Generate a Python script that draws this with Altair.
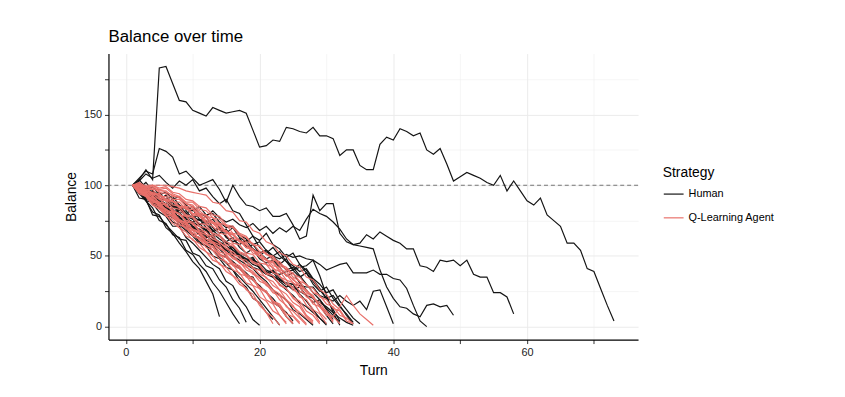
import altair as alt
import pandas as pd

# ---- data: balance per turn (turn 1, 2, 3, ...) ----
human = [
    [100, 104, 111, 104, 183, 184, 172, 160, 159, 153, 151, 149, 155, 153, 151, 152, 153, 151, 139, 127,
     128, 132, 131, 141, 140, 138, 137, 141, 135, 135, 133, 121, 125, 125, 114, 111, 111, 129, 134, 132,
     140, 138, 135, 137, 125, 122, 126, 115, 103, 106, 109, 107, 105, 102, 100, 107, 96, 103, 96, 89,
     86, 91, 79, 75, 71, 59, 59, 54, 41, 39, 27, 15, 4],
    [100, 105, 110, 108, 126, 124, 120, 108, 110, 105, 100, 102, 104, 97, 88, 100, 92, 86, 85, 82,
     84, 78, 78, 80, 72, 62, 64, 93, 82, 87, 87, 66, 60, 58, 59, 65, 62, 67, 64, 61,
     59, 55, 55, 43, 42, 39, 47, 46, 47, 43, 47, 37, 35, 35, 24, 24, 21, 9],
    [100, 98, 102, 96, 93, 90, 92, 86, 83, 85, 80, 78, 82, 77, 74, 76, 72, 70, 73, 68,
     71, 66, 70, 67, 71, 68, 76, 83, 80, 78, 74, 69, 62, 58, 57, 56, 55, 40, 28, 20,
     14, 13, 9, 7, 15, 16, 14, 15, 8],
    [100, 97, 92, 95, 88, 84, 86, 80, 77, 74, 76, 70, 67, 69, 64, 60, 62, 57, 55, 52,
     54, 50, 48, 51, 49, 50, 48, 47, 44, 40, 42, 44, 45, 38, 38, 38, 40, 37, 37, 34,
     33, 27, 15, 4, 0],
    [100, 96, 93, 90, 86, 83, 80, 77, 73, 70, 68, 64, 61, 58, 55, 52, 49, 46, 42, 40,
     37, 35, 33, 31, 30, 29, 28, 28, 22, 20, 18, 22, 18, 15, 18, 12, 25, 26, 14, 2],
    [100, 95, 91, 88, 84, 82, 78, 75, 71, 69, 65, 62, 60, 57, 55, 52, 50, 48, 47, 45,
     40, 38, 37, 39, 40, 42, 43, 47, 36, 22, 10, 1],
    [100, 103, 108, 105, 107, 102, 98, 103, 100, 104, 96, 98, 92, 87, 90, 82, 80, 72, 64, 61,
     66, 58, 55, 49, 52, 44, 40, 33, 27, 20, 12, 4],
    [100, 101, 96, 99, 93, 95, 90, 92, 86, 82, 85, 79, 80, 74, 70, 71, 65, 62, 58, 60,
     54, 50, 53, 46, 43, 39, 41, 34, 30, 24, 26, 18, 12, 6, 2],
    [100, 94, 89, 81, 79, 70, 66, 59, 53, 46, 41, 32, 23, 7],
    [100, 95, 89, 84, 75, 73, 65, 63, 54, 51, 44, 39, 31, 25, 17, 9, 2],
    [100, 91, 90, 79, 78, 72, 67, 62, 61, 52, 50, 43, 41, 33, 28, 19, 13, 3],
    [100, 97, 91, 87, 81, 78, 71, 71, 63, 59, 54, 49, 44, 41, 32, 29, 20, 14, 5, 1],
    [100, 98, 89, 88, 84, 80, 74, 72, 68, 64, 59, 57, 50, 48, 42, 40, 32, 28, 20, 17, 10, 5],
    [100, 97, 95, 88, 85, 79, 79, 72, 71, 65, 63, 59, 58, 51, 49, 44, 41, 36, 35, 27,
     25, 17, 14, 7, 2],
    [100, 95, 97, 91, 88, 84, 81, 80, 75, 71, 69, 65, 60, 58, 54, 50, 47, 44, 41, 36,
     32, 26, 22, 19, 12, 9, 5, 1],
    [100, 104, 98, 95, 91, 89, 86, 83, 78, 76, 73, 68, 66, 62, 59, 56, 52, 50, 46, 43,
     38, 35, 30, 26, 22, 17, 14, 10, 6, 2],
    [100, 99, 93, 94, 87, 85, 80, 78, 72, 70, 65, 61, 59, 55, 50, 46, 42, 38, 33, 29,
     24, 20, 14, 10, 4],
    [100, 96, 92, 89, 86, 80, 77, 74, 69, 66, 60, 57, 54, 49, 45, 40, 35, 30, 25, 19, 13, 7, 1],
    [100, 97, 94, 91, 89, 85, 83, 80, 76, 74, 71, 68, 63, 60, 57, 54, 51, 48, 44, 42,
     39, 36, 33, 30, 28, 25, 22, 20, 17, 14, 10, 6, 3, 1],
    [100, 96, 99, 92, 90, 93, 85, 82, 86, 78, 75, 78, 70, 66, 69, 62, 58, 61, 55, 50,
     54, 47, 44, 48, 40, 35, 38, 30, 25, 28, 20, 14, 9, 3],
    [100, 97, 92, 94, 88, 85, 88, 80, 82, 76, 72, 75, 68, 64, 60, 63, 56, 52, 55, 48,
     45, 47, 42, 36, 38, 31, 26, 20, 15, 8, 2],
    [100, 102, 97, 92, 95, 89, 84, 86, 80, 77, 79, 72, 68, 70, 63, 60, 62, 56, 58, 52,
     48, 50, 45, 40, 42, 36, 30, 24, 19, 12, 5],
    [100, 95, 90, 92, 86, 81, 83, 76, 72, 74, 67, 63, 65, 58, 54, 56, 50, 47, 49, 42,
     38, 40, 34, 30, 26, 28, 22, 17, 19, 13, 8, 3],
    [100, 98, 94, 96, 90, 87, 90, 83, 80, 83, 76, 73, 76, 70, 66, 70, 63, 60, 64, 56,
     52, 56, 50, 46, 40, 44, 38, 32, 26, 20, 22, 15, 8, 2],
    [100, 94, 96, 89, 85, 87, 80, 76, 78, 71, 67, 69, 62, 58, 60, 54, 50, 46, 48, 41,
     37, 39, 32, 28, 30, 23, 18, 12, 6, 1],
]

agent = [
    [100, 95, 92, 86, 84, 78, 76, 70, 67, 61, 59, 53, 50, 44, 42, 36, 33, 26, 23, 15, 10, 2],
    [100, 98, 93, 90, 85, 83, 77, 75, 69, 68, 61, 60, 54, 52, 45, 44, 37, 36, 29, 27, 19, 16, 8, 3],
    [100, 97, 94, 89, 88, 82, 81, 76, 73, 68, 66, 60, 59, 53, 51, 45, 43, 37, 34, 28, 25, 18, 15, 7, 2],
    [100, 100, 95, 93, 87, 86, 82, 80, 74, 73, 67, 65, 60, 58, 52, 51, 45, 43, 37, 35, 29, 26, 19, 15, 8, 3],
    [100, 96, 96, 91, 91, 85, 83, 79, 78, 72, 71, 65, 64, 59, 57, 51, 50, 44, 42, 37, 35, 29, 26, 19, 15, 7, 2],
    [100, 100, 97, 97, 91, 90, 86, 85, 79, 78, 73, 72, 66, 65, 60, 58, 53, 51, 46, 44, 38, 36, 29, 27, 20, 16, 8, 4],
    [100, 101, 98, 100, 97, 98, 94, 92, 87, 86, 80, 79, 74, 72, 67, 65, 60, 58, 52, 50, 44, 42, 35, 33, 26, 23, 15, 11, 3],
    [100, 97, 98, 94, 94, 89, 89, 85, 84, 79, 78, 73, 71, 66, 65, 59, 58, 52, 51, 45, 44, 38, 36, 30, 28, 21, 19, 12, 9, 2],
    [100, 102, 99, 100, 98, 99, 95, 94, 90, 89, 85, 84, 79, 78, 72, 71, 66, 64, 58, 57, 51, 49, 43, 41, 35, 32, 25, 22, 14, 10, 3],
    [100, 97, 97, 93, 94, 90, 89, 85, 85, 80, 80, 75, 74, 69, 68, 62, 61, 56, 54, 49, 47, 41, 39, 33, 31, 25, 23, 16, 14, 8, 7, 14, 22, 15, 9, 5, 1],
    [100, 98, 98, 94, 93, 89, 89, 84, 84, 79, 79, 74, 73, 68, 67, 62, 61, 56, 55, 50, 48, 43, 42, 36, 34, 28, 26, 20, 17, 10, 7, 2],
    [100, 94, 92, 86, 83, 79, 73, 70, 64, 62, 56, 53, 47, 45, 39, 36, 30, 27, 20, 17, 10, 7, 1],
    [100, 96, 93, 89, 86, 80, 79, 72, 71, 65, 63, 58, 56, 50, 49, 43, 41, 35, 33, 27, 25, 18, 16, 9, 7, 2],
    [100, 99, 94, 92, 88, 87, 81, 80, 75, 74, 68, 67, 62, 60, 55, 53, 48, 47, 41, 40, 34, 32, 26, 23, 17, 14, 7, 3],
    [100, 100, 98, 98, 95, 94, 90, 90, 85, 84, 79, 79, 74, 73, 67, 66, 61, 59, 54, 52, 47, 45, 39, 37, 31, 28, 21, 18, 10, 5],
    [100, 101, 98, 99, 96, 96, 92, 92, 88, 88, 83, 82, 77, 76, 71, 70, 65, 63, 58, 57, 51, 50, 44, 42, 37, 35, 29, 27, 21, 19, 13, 11, 4, 2],
    [100, 96, 94, 88, 87, 81, 79, 74, 72, 66, 65, 59, 57, 51, 50, 44, 42, 36, 34, 27, 24, 17, 14, 7, 3],
    [100, 100, 95, 94, 90, 89, 84, 83, 78, 77, 71, 70, 65, 64, 58, 57, 52, 50, 45, 43, 37, 36, 30, 27, 21, 18, 11, 8, 2],
    [100, 95, 95, 89, 88, 82, 81, 75, 74, 69, 67, 62, 60, 55, 53, 48, 46, 40, 38, 32, 30, 24, 22, 14, 11, 6, 1],
    [100, 100, 96, 95, 92, 92, 88, 88, 83, 83, 78, 77, 73, 71, 66, 65, 60, 59, 54, 52, 47, 46, 40, 39, 33, 30, 24, 21, 14, 11, 4],
    [100, 100, 100, 100, 100, 100, 99, 98, 96, 95, 94, 93, 88, 87, 82, 81, 75, 74, 68, 66, 60, 58, 52, 50, 44, 42, 35, 33, 26, 23, 16, 12, 5],
    [100, 95, 93, 87, 85, 79, 78, 72, 70, 64, 62, 56, 54, 48, 46, 40, 38, 31, 29, 21, 18, 11, 8, 2],
    [100, 99, 99, 97, 97, 95, 93, 91, 87, 85, 82, 78, 77, 73, 72, 66, 65, 60, 59, 53, 52, 47, 46, 40, 38, 32, 30, 24, 22, 16, 14, 8, 6, 2],
    [100, 97, 92, 91, 86, 83, 80, 75, 73, 69, 66, 62, 59, 56, 52, 49, 45, 42, 39, 34, 31, 26, 23, 18, 14, 10, 6, 2],
]

strategies = ["Human", "Q-Learning Agent"]
colors = ["#141414", "#E8706A"]

rows = []
for label, group in zip(strategies, [human, agent]):
    for i, series in enumerate(group):
        for t, v in enumerate(series, start=1):
            rows.append({"Turn": t, "Balance": v, "Strategy": label, "run": f"{label}-{i}", "order": t})
df = pd.DataFrame(rows)

FONT = "Liberation Sans"

x_axis = alt.Axis(
    values=[0, 10, 20, 30, 40, 50, 60, 70],
    labelExpr="datum.value % 20 === 0 ? datum.label : ''",
    gridWidth={"condition": {"test": "datum.value % 20 === 0", "value": 1.0}, "value": 0.5},
    title="Turn",
)
y_axis = alt.Axis(
    values=[0, 25, 50, 75, 100, 125, 150, 175],
    labelExpr="datum.value % 50 === 0 ? datum.label : ''",
    gridWidth={"condition": {"test": "datum.value % 50 === 0", "value": 1.0}, "value": 0.5},
    title="Balance",
)

lines = alt.Chart(df).mark_line(strokeWidth=1.2, strokeJoin="miter").encode(
    x=alt.X("Turn:Q", scale=alt.Scale(domain=[-2.6, 76.6], nice=False, zero=False), axis=x_axis),
    y=alt.Y("Balance:Q", scale=alt.Scale(domain=[-9.2, 193.2], nice=False, zero=False), axis=y_axis),
    color=alt.Color(
        "Strategy:N",
        scale=alt.Scale(domain=strategies, range=colors),
        legend=alt.Legend(
            title="Strategy",
            orient="none",
            legendX=560,
            legendY=114,
            symbolType="stroke",
            symbolSize=400,
            symbolStrokeWidth=1.2,
            rowPadding=8,
            titlePadding=3,
        ),
    ),
    detail="run:N",
    order="order:Q",
)

ref = alt.Chart(pd.DataFrame({"y": [100]})).mark_rule(
    color="#666666", strokeDash=[4, 3], strokeWidth=0.9
).encode(y="y:Q")

chart = alt.layer(ref, lines).properties(
    width=535,
    height=289,
    title=alt.TitleParams("Balance over time", anchor="start", frame="group", fontSize=17, font=FONT,
                          fontWeight="normal", color="#000000", offset=8),
    autosize=alt.AutoSizeParams(type="none"),
    padding={"left": 101.5, "top": 44, "right": 201, "bottom": 56},
).configure_view(stroke=None).configure_axis(
    domainColor="#000000",
    domainWidth=1.2,
    tickColor="#333333",
    tickSize=4,
    gridColor="#ebebeb",
    labelFont=FONT,
    labelFontSize=11,
    labelColor="#222222",
    titleFont=FONT,
    titleFontSize=14,
    titleFontWeight="normal",
    titleColor="#000000",
    labelPadding=3,
).configure_axisX(titlePadding=6).configure_axisY(titlePadding=5).configure_legend(
    titleFont=FONT, titleFontSize=14, titleFontWeight="normal", titleColor="#000000",
    labelFont=FONT, labelFontSize=11, labelColor="#000000",
)

chart.save("out.html", embed_options={"renderer": "svg", "actions": False})
